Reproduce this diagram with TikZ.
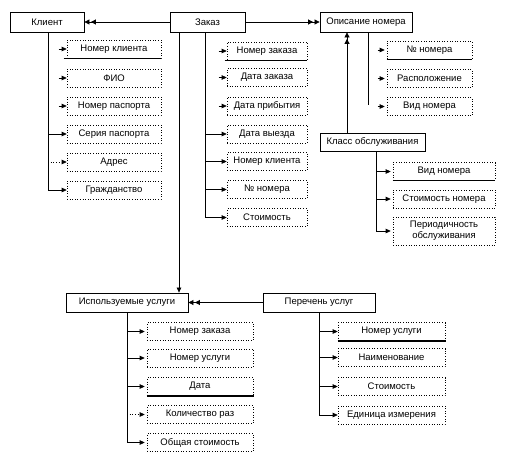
\documentclass[tikz,border=0pt]{standalone}
\usepackage{fontspec}
\setmainfont{Liberation Sans}
\usetikzlibrary{arrows.meta}
\tikzset{
  ent/.style={draw, line width=0.8pt, inner sep=0pt, font=\fontsize{9.5}{11}\selectfont},
  att/.style={draw, dotted, line width=0.6pt, inner sep=0pt, align=center, font=\fontsize{9.5}{11}\selectfont},
  conn/.style={line width=0.7pt},
  tip/.style={conn, -{Triangle[length=5pt,width=4.5pt]}},
  dtip/.style={conn, -{Triangle[length=5pt,width=5pt,sep=1.5pt] Triangle[length=5pt,width=5pt]}},
  keyline/.style={line width=#1},
}
\begin{document}
\begin{tikzpicture}[x=1pt,y=-1pt]
\useasboundingbox (0,0) rectangle (505,460);
% entities
\node[ent, minimum width=74pt, minimum height=20pt] (klient) at (47,22) {Клиент};
\node[ent, minimum width=75pt, minimum height=20pt] (zakaz) at (207.5,22) {Заказ};
\node[ent, minimum width=92pt, minimum height=20pt] (opis) at (366,22) {Описание номера};
\node[ent, minimum width=105pt, minimum height=18pt] (klass) at (372.5,142) {Класс обслуживания};
\node[ent, minimum width=122pt, minimum height=19pt] (isp) at (127,302.5) {Используемые услуги};
\node[ent, minimum width=112pt, minimum height=19pt] (perech) at (319,302.5) {Перечень услуг};

% Клиент attributes
\begin{scope}[every node/.style={att, minimum width=94pt, minimum height=18pt}]
\node (k1) at (114,49) {Номер клиента};
\node (k2) at (114,78) {ФИО};
\node (k3) at (114,106) {Номер паспорта};
\node (k4) at (114,134) {Серия паспорта};
\node (k5) at (114,162) {Адрес};
\node (k6) at (114,190) {Гражданство};
\end{scope}
% Заказ attributes
\begin{scope}[every node/.style={att, minimum width=80pt, minimum height=18pt}]
\node (z1) at (267,51) {Номер заказа};
\node (z2) at (267,77.5) {Дата заказа};
\node (z3) at (267,106) {Дата прибытия};
\node (z4) at (267,134) {Дата выезда};
\node (z5) at (267,161.5) {Номер клиента};
\node (z6) at (267,189.5) {№ номера};
\node (z7) at (267,217.5) {Стоимость};
\end{scope}
% Описание номера attributes
\begin{scope}[every node/.style={att, minimum width=85pt, minimum height=18pt}]
\node (o1) at (429.5,50) {№ номера};
\node (o2) at (429.5,78.5) {Расположение};
\node (o3) at (429.5,106.5) {Вид номера};
\end{scope}
% Класс обслуживания attributes
\begin{scope}[every node/.style={att, minimum width=102pt, minimum height=18pt}]
\node (c1) at (444,171.5) {Вид номера};
\node (c2) at (444,199) {Стоимость номера};
\node[minimum height=28pt] (c3) at (444,231) {Периодичность\\обслуживания};
\end{scope}
% Используемые услуги attributes
\begin{scope}[every node/.style={att, minimum width=106pt, minimum height=18pt}]
\node (u1) at (200,331.5) {Номер заказа};
\node (u2) at (200,358) {Номер услуги};
\node (u3) at (200,386.5) {Дата};
\node (u4) at (200,414.5) {Количество раз};
\node (u5) at (200,442.5) {Общая стоимость};
\end{scope}
% Перечень услуг attributes
\begin{scope}[every node/.style={att, minimum width=107pt, minimum height=18pt}]
\node (p1) at (391.5,331.5) {Номер услуги};
\node (p2) at (391.5,357.5) {Наименование};
\node (p3) at (391.5,386.5) {Стоимость};
\node (p4) at (391.5,415) {Единица измерения};
\end{scope}

% key separators
\draw[keyline=1.3pt] ([xshift=-3pt]k1.south west) -- (k1.south east);
\draw[keyline=1pt] ([xshift=-2pt]z1.south west) -- (z1.south east);
\draw[keyline=1pt] (o1.south west) -- (o1.south east);
\draw[keyline=1.3pt] (c1.south west) -- (c1.south east);
\draw[keyline=2.5pt] (u3.south west) -- ([xshift=1pt]u3.south east);
\draw[keyline=2pt] (p1.south west) -- ([xshift=1pt]p1.south east);

% relationships
\draw[dtip] (zakaz.west) -- (klient.east);
\draw[dtip] (zakaz.east) -- (opis.west);
\coordinate (cx) at (347,0);
\draw[dtip] (klass.north -| cx) -- (opis.south -| cx);
\coordinate (zx) at (179,0);
\draw[tip] (zakaz.south -| zx) -- (isp.north -| zx);
\draw[dtip] (perech.west) -- (isp.east);

% Клиент tree
\coordinate (kx) at (48,0);
\draw[conn] (klient.south -| kx) -- (kx |- k6.west);
\foreach \n in {k1,k2,k3} \draw[tip] ([xshift=-8pt]\n.west) -- (\n.west);
\draw[tip] (kx |- k4.west) -- (k4.west);
\draw[tip, dotted] (kx |- k5.west) -- (k5.west);
\draw[tip] (kx |- k6.west) -- (k6.west);

% Заказ tree
\coordinate (zx2) at (205,0);
\draw[conn] (zakaz.south -| zx2) -- (zx2 |- z7.west);
\foreach \n in {z1,z2,z3} \draw[tip] ([xshift=-8pt]\n.west) -- (\n.west);
\foreach \n in {z4,z5,z6,z7} \draw[tip] (zx2 |- \n.west) -- (\n.west);

% Описание tree
\coordinate (ox) at (368,0);
\coordinate (oend) at (368,105);
\draw[conn] (opis.south -| ox) -- (oend);
\foreach \n in {o1,o2,o3} \draw[tip] ([xshift=-9pt]\n.west) -- ([xshift=-2pt]\n.west);

% Класс tree
\coordinate (clx) at (376,0);
\draw[conn] (klass.south -| clx) -- (clx |- c3.west);
\foreach \n in {c1,c2,c3} \draw[tip] (clx |- \n.west) -- ([xshift=-2pt]\n.west);

% Используемые tree
\coordinate (ux) at (127,0);
\draw[conn] (isp.south -| ux) -- (ux |- u5.west);
\foreach \n in {u1,u2,u3,u5} \draw[tip] (ux |- \n.west) -- ([xshift=-2pt]\n.west);
\draw[tip, dotted] (ux |- u4.west) -- ([xshift=-2pt]u4.west);

% Перечень tree
\coordinate (px) at (319,0);
\draw[conn] (perech.south -| px) -- (px |- p4.west);
\foreach \n in {p1,p2,p3,p4} \draw[tip] (px |- \n.west) -- (\n.west);
\end{tikzpicture}
\end{document}
